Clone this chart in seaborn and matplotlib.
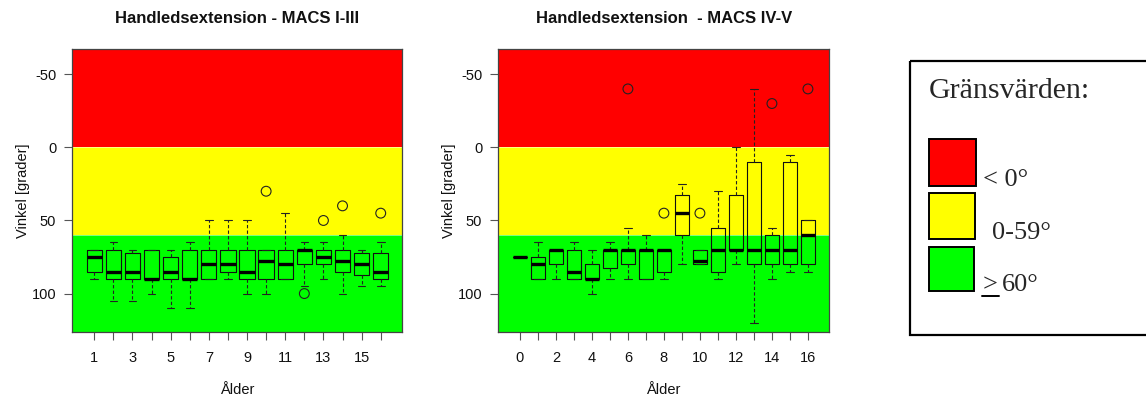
import numpy as np
import pandas as pd
import matplotlib
matplotlib.use("Agg")
import matplotlib.pyplot as plt
from matplotlib.patches import Rectangle
from matplotlib.lines import Line2D
import seaborn as sns

# ---- MACS I-III: wrist extension per age (degrees) ----
ages_a = [1, 2, 3, 4, 5, 6, 7, 8, 9, 10, 11, 12, 13, 14, 15, 16]
wlo_a = [70, 65, 70, 70, 70, 65, 50, 50, 50, 70, 45, 65, 65, 60, 70, 65]
q1_a = [70, 70, 72.5, 70, 75, 70, 70, 70, 70, 70, 70, 70, 70, 70, 72.5, 72.5]
med_a = [75, 85, 85, 90, 85, 90, 80, 80, 85, 77.5, 80, 70, 75, 77.5, 80, 85]
q3_a = [85, 90, 90, 90, 90, 90, 90, 85, 90, 90, 90, 80, 80, 85, 87.5, 90]
whi_a = [90, 105, 105, 100, 110, 110, 90, 90, 100, 100, 90, 95, 90, 100, 95, 95]
out_age_a = [10, 12, 13, 14, 16]
out_val_a = [30, 100, 50, 40, 45]

# ---- MACS IV-V ----
ages_b = [0, 1, 2, 3, 4, 5, 6, 7, 8, 9, 10, 11, 12, 13, 14, 15, 16]
wlo_b = [75, 65, 70, 65, 70, 65, 55, 60, 70, 25, 70, 30, 0, -40, 55, 5, 50]
q1_b = [75, 75, 70, 70, 80, 70, 70, 70, 70, 32.5, 70, 55, 32.5, 10, 60, 10, 50]
med_b = [75, 80, 70, 85, 90, 70, 70, 70, 70, 45, 77.5, 70, 70, 70, 70, 70, 60]
q3_b = [75, 90, 80, 90, 90, 82.5, 80, 90, 85, 60, 80, 85, 70, 80, 80, 80, 80]
whi_b = [75, 90, 90, 90, 100, 90, 90, 90, 90, 80, 80, 90, 80, 120, 90, 85, 85]
out_age_b = [6, 8, 10, 14, 16]
out_val_b = [-40, 45, 45, -30, -40]

y_ticks = [-50, 0, 50, 100]
band_limits = [0, 60]
band_colors = ["#FF0000", "#FFFF00", "#00FF00"]
band_labels = ["< 0°", "0-59°", "60°"]
titles = ["Handledsextension - MACS I-III", "Handledsextension  - MACS IV-V"]
labelled_a = [1, 3, 5, 7, 9, 11, 13, 15]
labelled_b = [0, 2, 4, 6, 8, 10, 12, 14, 16]


def long_form(ages, wlo, q1, med, q3, whi):
    rows = []
    for a, v0, v1, v2, v3, v4 in zip(ages, wlo, q1, med, q3, whi):
        for v in (v0, v1, v2, v3, v4):
            rows.append({"Ålder": a, "Vinkel": v})
    return pd.DataFrame(rows)


df_a = long_form(ages_a, wlo_a, q1_a, med_a, q3_a, whi_a)
df_b = long_form(ages_b, wlo_b, q1_b, med_b, q3_b, whi_b)
out_a = pd.DataFrame({"Ålder": out_age_a, "Vinkel": out_val_a})
out_b = pd.DataFrame({"Ålder": out_age_b, "Vinkel": out_val_b})

sns.set_theme(style="white")
plt.rcParams["font.family"] = ["Liberation Sans", "DejaVu Sans"]

W, H = 1146, 398
fig = plt.figure(figsize=(W / 100, H / 100), dpi=100)

ax_a = fig.add_axes([72.3 / W, (H - 332.3) / H, 330 / W, 283.3 / H])
ax_b = fig.add_axes([498.3 / W, (H - 332.3) / H, 330.7 / W, 283.3 / H])

panels = [
    (ax_a, df_a, out_a, (-0.15, 17.13), ages_a, labelled_a, titles[0]),
    (ax_b, df_b, out_b, (-1.2, 17.17), ages_b, labelled_b, titles[1]),
]

for ax, df, outl, xlim, ages, labelled, title in panels:
    ax.axhspan(-200, band_limits[0], color=band_colors[0], zorder=0, lw=0)
    ax.axhspan(band_limits[0], band_limits[1], color=band_colors[1], zorder=0, lw=0)
    ax.axhspan(band_limits[1], 300, color=band_colors[2], zorder=0, lw=0)
    for lim in band_limits:
        ax.axhline(lim, color="white", lw=0.6, alpha=0.6, zorder=0.5)

    sns.boxplot(
        data=df, x="Ålder", y="Vinkel", native_scale=True, ax=ax,
        fill=False, color="#111111", width=0.8, whis=(0, 100), linewidth=0.8,
        medianprops=dict(linewidth=2.4, color="black"),
        whiskerprops=dict(linestyle=(0, (3, 2)), linewidth=0.8, color="#222222"),
        capprops=dict(linewidth=0.8, color="#222222"),
        showfliers=False,
    )
    sns.scatterplot(
        data=outl, x="Ålder", y="Vinkel", ax=ax, marker="o", s=50,
        facecolor="none", edgecolor="#222222", linewidth=0.8, zorder=5,
    )

    ax.set_xlim(*xlim)
    ax.set_ylim(126.5, -67.3)
    ax.set_yticks(y_ticks)
    ax.set_yticklabels([str(t) for t in y_ticks])
    ax.set_xticks(ages)
    ax.set_xticklabels([str(a) if a in labelled else "" for a in ages])
    ax.tick_params(axis="both", direction="out", length=6, width=0.8,
                   color="#555555", labelsize=10.5, labelcolor="#111111",
                   left=True, bottom=True, pad=5.5)
    ax.tick_params(axis="x", pad=7.5)
    for s in ax.spines.values():
        s.set_color("#444444")
        s.set_linewidth(0.9)
    ax.set_xlabel("Ålder", fontsize=10.5, labelpad=13, color="#111111")
    ax.set_ylabel("Vinkel [grader]", fontsize=10.5, labelpad=1.5, color="#111111")
    ax.set_title(title, fontsize=12, fontweight="bold", pad=18.5, color="#111111")
    ax.grid(False)

# ---- threshold key on the right ----
key = fig.add_axes([0, 0, 1, 1], zorder=-1)
key.set_xlim(0, W)
key.set_ylim(H, 0)
key.axis("off")
key.add_patch(Rectangle((910, 61), 260, 274, fill=False, edgecolor="black", lw=1.6))
serif = ["Liberation Serif", "DejaVu Serif"]
key.text(929, 98, "Gränsvärden:", fontsize=21.5, family=serif, va="baseline", ha="left")
squares = [(929, 139, 47, 47), (929, 193, 46, 46), (929, 247, 45, 44)]
text_pos = [(983, 186), (992, 239), (983, 291)]
for (x, y, w, h), col, lab, (tx, ty) in zip(squares, band_colors, band_labels, text_pos):
    key.add_patch(Rectangle((x, y), w, h, facecolor=col, edgecolor="black", lw=1.4))
    if lab == "60°":
        key.text(tx, ty, ">", fontsize=19, family=serif, va="baseline", ha="left")
        key.text(tx + 19, ty, lab, fontsize=19, family=serif, va="baseline", ha="left")
        key.add_line(Line2D([tx - 1, tx + 16], [ty + 4.5, ty + 4.5], color="black", lw=1.4))
    else:
        key.text(tx, ty, lab, fontsize=19, family=serif, va="baseline", ha="left")

fig.savefig("out.png", dpi=100)
